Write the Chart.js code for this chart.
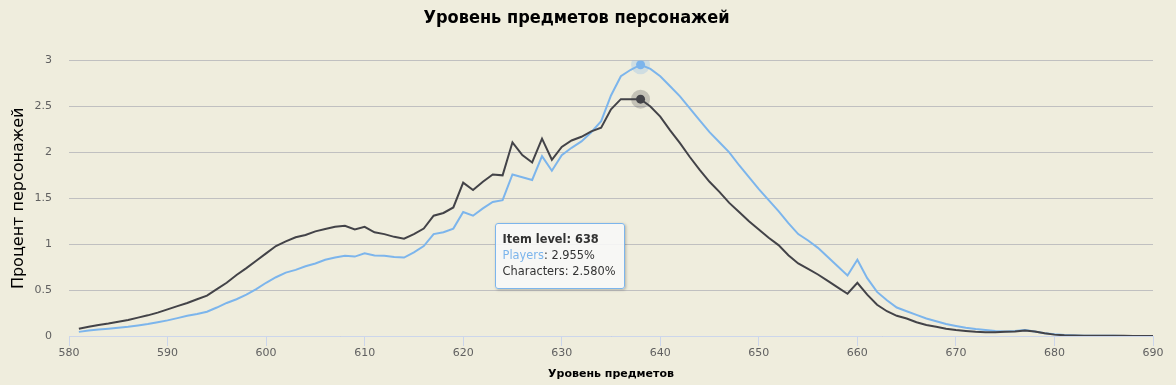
<!DOCTYPE html>
<html><head><meta charset="utf-8">
<script src="https://cdn.jsdelivr.net/npm/chart.js@4.4.1/dist/chart.umd.min.js"></script>
<style>
html,body{margin:0;padding:0;background:#efeddd;}
#wrap{position:relative;width:1176px;height:385px;}
#tip{position:absolute;display:none;box-sizing:border-box;background:rgba(247,247,247,0.9);border:1px solid #7cb5ec;border-radius:3px;box-shadow:1px 1px 3px rgba(0,0,0,0.25);padding:7px 8px 9px 7px;font-family:"DejaVu Sans",sans-serif;font-size:11.4px;line-height:16px;color:#333;white-space:nowrap;}
</style></head>
<body><div id="wrap"><canvas id="c" width="1176" height="385"></canvas><div id="tip"></div></div>
<script>
const levels = [581,582,583,584,585,586,587,588,589,590,591,592,593,594,595,596,597,598,599,600,
601,602,603,604,605,606,607,608,609,610,611,612,613,614,615,616,617,618,619,620,
621,622,623,624,625,626,627,628,629,630,631,632,633,634,635,636,637,638,639,640,
641,642,643,644,645,646,647,648,649,650,651,652,653,654,655,656,657,658,659,660,
661,662,663,664,665,666,667,668,669,670,671,672,673,674,675,676,677,678,679,680,
681,682,683,684,685,686,687,688,689,690];
const players = [0.045,0.06,0.07,0.08,0.09,0.10,0.115,0.13,0.15,0.17,0.195,0.22,0.24,0.265,0.31,0.36,0.40,0.45,0.51,0.58,
0.64,0.69,0.72,0.76,0.79,0.83,0.855,0.873,0.865,0.90,0.876,0.873,0.86,0.854,0.91,0.98,1.11,1.13,1.17,1.35,
1.31,1.39,1.46,1.48,1.76,1.73,1.70,1.96,1.80,1.97,2.05,2.12,2.22,2.34,2.62,2.83,2.90,2.955,2.91,2.83,
2.72,2.61,2.48,2.35,2.22,2.11,2.00,1.86,1.73,1.60,1.48,1.36,1.23,1.11,1.04,0.96,0.86,0.76,0.66,0.83,
0.63,0.48,0.39,0.31,0.27,0.23,0.19,0.16,0.13,0.11,0.09,0.075,0.065,0.055,0.05,0.055,0.065,0.05,0.03,0.018,
0.01,0.006,0.004,0.003,0.002,0.002,0.001,0.001,0.001,0.001];
const characters = [0.08,0.10,0.12,0.135,0.155,0.175,0.20,0.225,0.255,0.29,0.325,0.36,0.40,0.44,0.51,0.58,0.665,0.74,0.82,0.90,
0.98,1.03,1.075,1.10,1.14,1.165,1.19,1.20,1.16,1.19,1.13,1.11,1.08,1.06,1.11,1.17,1.31,1.34,1.40,1.67,
1.59,1.68,1.76,1.75,2.11,1.97,1.89,2.15,1.92,2.06,2.13,2.17,2.23,2.27,2.47,2.58,2.58,2.58,2.50,2.39,
2.24,2.10,1.95,1.81,1.68,1.57,1.45,1.35,1.25,1.16,1.07,0.99,0.88,0.79,0.73,0.67,0.60,0.53,0.46,0.58,
0.45,0.34,0.27,0.22,0.19,0.15,0.12,0.10,0.08,0.065,0.055,0.045,0.04,0.04,0.045,0.05,0.06,0.05,0.03,0.015,
0.008,0.005,0.004,0.003,0.002,0.002,0.002,0.001,0.001,0.001];
const yTicks = [0,0.5,1,1.5,2,2.5,3];
const xTicks = [580,590,600,610,620,630,640,650,660,670,680,690];
const activeLevel = 638;

const title = 'Уровень предметов персонажей';
const yTitle = 'Процент персонажей';
const xTitle = 'Уровень предметов';

Chart.defaults.font.family = '"DejaVu Sans", sans-serif';

const bg = {id:'bg', beforeDraw(c){const x=c.ctx;x.save();x.fillStyle='#efeddd';x.fillRect(0,0,c.width,c.height);x.restore();}};

function pts(arr){return levels.map((l,i)=>({x:l,y:arr[i]}));}

const chart = new Chart(document.getElementById('c'), {
  type:'line',
  data:{datasets:[
    {label:'Players',data:pts(players),borderColor:'#7cb5ec',backgroundColor:'#7cb5ec',borderWidth:2,tension:0,
     pointRadius:0,pointHoverRadius:4.5,pointHoverBorderWidth:10,pointHoverBackgroundColor:'#7cb5ec',pointHoverBorderColor:'rgba(124,181,236,0.28)',order:1},
    {label:'Characters',data:pts(characters),borderColor:'#434348',backgroundColor:'#434348',borderWidth:2,tension:0,
     pointRadius:0,pointHoverRadius:4.5,pointHoverBorderWidth:10,pointHoverBackgroundColor:'#434348',pointHoverBorderColor:'rgba(67,67,72,0.25)',order:0}
  ]},
  options:{
    responsive:false,animation:false,devicePixelRatio:1,
    interaction:{mode:'index',intersect:false},
    layout:{padding:{left:0,right:23,top:0,bottom:0}},
    plugins:{
      legend:{display:false},
      title:{display:true,text:title,color:'#000',font:{family:'"DejaVu Sans Condensed",sans-serif',size:18,weight:'bold'},padding:{top:8,bottom:31}},
      tooltip:{enabled:false,external(ctx){
        const t=ctx.tooltip, el=document.getElementById('tip');
        if(t.opacity===0||!t.dataPoints||!t.dataPoints.length){el.style.display='none';return;}
        const i=t.dataPoints[0].dataIndex;
        el.innerHTML='<b>Item level: '+levels[i]+'</b><br><span style="color:#7cb5ec">Players</span>: '+players[i].toFixed(3)+'%<br>Characters: '+characters[i].toFixed(3)+'%';
        el.style.display='block';
        el.style.left=(t.caretX-146)+'px';
        el.style.top=(t.caretY+141)+'px';
      }}
    },
    scales:{
      x:{type:'linear',min:580,max:690,
        afterBuildTicks(s){s.ticks=xTicks.map(v=>({value:v}));},
        afterFit(s){s.height=49;},
        ticks:{color:'#606060',font:{size:11},padding:1,maxRotation:0,callback:v=>String(v)},
        grid:{drawOnChartArea:false,drawTicks:true,tickLength:10,color:'#ccd6eb'},
        border:{color:'#ccd6eb'},
        title:{display:true,text:xTitle,color:'#000',font:{size:11,weight:'bold'},padding:{top:4,bottom:4}}
      },
      y:{min:0,max:3,
        afterBuildTicks(s){s.ticks=yTicks.map(v=>({value:v}));},
        afterFit(s){s.width=69;},
        ticks:{color:'#606060',font:{size:11},padding:17,callback:v=>String(v)},
        grid:{color:'#c0c0c0',drawTicks:false},
        border:{display:false},
        title:{display:true,text:yTitle,color:'#000',font:{size:16},padding:{top:9,bottom:0}}
      }
    }
  },
  plugins:[bg]
});

const idx = levels.indexOf(activeLevel);
const act=[{datasetIndex:0,index:idx},{datasetIndex:1,index:idx}];
chart.setActiveElements(act);
const m=chart.getDatasetMeta(0).data[idx];
chart.tooltip.setActiveElements(act,{x:m.x,y:m.y});
chart.update();
</script>
</body></html>
